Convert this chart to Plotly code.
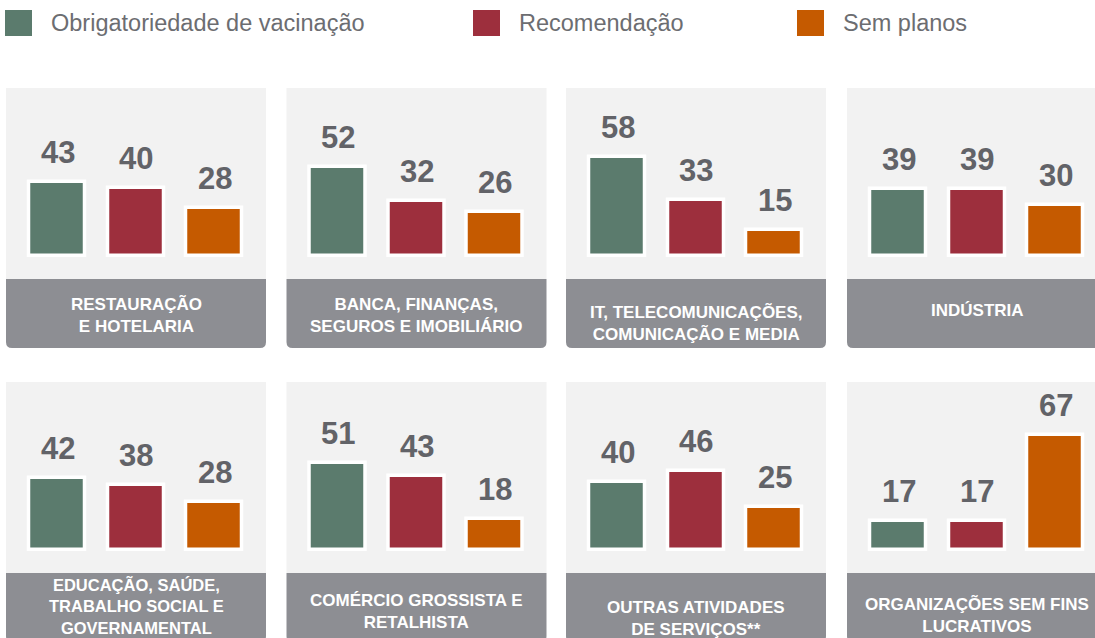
import plotly.graph_objects as go

# ---------------- data ----------------
sectors = [
    "RESTAURAÇÃO<br>E HOTELARIA",
    "BANCA, FINANÇAS,<br>SEGUROS E IMOBILIÁRIO",
    "IT, TELECOMUNICAÇÕES,<br>COMUNICAÇÃO E MEDIA",
    "INDÚSTRIA",
    "EDUCAÇÃO, SAÚDE,<br>TRABALHO SOCIAL E<br>GOVERNAMENTAL",
    "COMÉRCIO GROSSISTA E<br>RETALHISTA",
    "OUTRAS ATIVIDADES<br>DE SERVIÇOS**",
    "ORGANIZAÇÕES SEM FINS<br>LUCRATIVOS",
]
series = ["Obrigatoriedade de vacinação", "Recomendação", "Sem planos"]
obrigatoriedade = [43, 52, 58, 39, 42, 51, 40, 17]
recomendacao = [40, 32, 33, 39, 38, 43, 46, 17]
sem_planos = [28, 26, 15, 30, 28, 18, 25, 67]

# ---------------- style / layout ----------------
W, H = 1095, 638
colors = ["#5b7b6d", "#9d2f3d", "#c55a00"]
panel_bg = "#f2f2f2"
label_bg = "#8d8e93"
value_color = "#626368"
legend_color = "#6c6d71"
FONT = "Liberation Sans, Arial, sans-serif"

panel_left = [6, 286.5, 566, 847]
panel_w = 260
row_top = [88, 382]
label_top = [279, 573]
label_bot = [348, 642]
zero_px = [256, 550]
scale = 1.71            # px per percentage point
label_cy = [315.5, 316, 323, 311, 606, 611, 618, 615]
label_size = [17, 17, 17, 17, 16.5, 17, 17, 17]
legend_x = [5, 473, 797]


def fx(p):
    return p / W


def fy(p):
    return 1 - p / H


fig = go.Figure()
shapes = []
annotations = []

values_by_panel = list(zip(obrigatoriedade, recomendacao, sem_planos))

for i, sector in enumerate(sectors):
    r, c = divmod(i, 4)
    left = panel_left[c]
    right = min(left + panel_w, W + 20)
    # panel background
    shapes.append(dict(type="rect", xref="paper", yref="paper",
                       x0=fx(left), x1=fx(right), y0=fy(label_top[r]), y1=fy(row_top[r]),
                       fillcolor=panel_bg, line_width=0, layer="below"))
    # label box with rounded bottom corners
    rad = 6
    x0, x1 = fx(left), fx(right)
    yt, yb = fy(label_top[r]), fy(label_bot[r])
    rx, ry = rad / W, rad / H
    path = (f"M {x0},{yt} L {x1},{yt} L {x1},{yb + ry} Q {x1},{yb} {x1 - rx},{yb} "
            f"L {x0 + rx},{yb} Q {x0},{yb} {x0},{yb + ry} Z")
    shapes.append(dict(type="path", xref="paper", yref="paper", path=path,
                       fillcolor=label_bg, line_width=0, layer="below"))
    annotations.append(dict(xref="paper", yref="paper", x=fx(left + 130), y=fy(label_cy[i]),
                            text=f"<b>{sector}</b>", showarrow=False, xanchor="center",
                            yanchor="middle", align="center",
                            font=dict(family=FONT, size=label_size[i], color="white")))

    # axes
    ax_id = "" if i == 0 else str(i + 1)
    step = 78.5
    dom_x0 = left + 51.5 - step / 2
    dom_x1 = min(left + 51.5 + 2 * step + step / 2, W)
    rng_hi = 2 + (dom_x1 - (left + 51.5 + 2 * step)) / step
    pad = 6
    dom_y_bot = zero_px[r] + pad
    dom_y_top = row_top[r]
    fig.update_layout(**{
        f"xaxis{ax_id}": dict(domain=[fx(dom_x0), fx(dom_x1)], range=[-0.5, rng_hi],
                              visible=False, fixedrange=True, anchor=f"y{ax_id}"),
        f"yaxis{ax_id}": dict(domain=[fy(dom_y_bot), fy(dom_y_top)],
                              range=[-pad / scale, (zero_px[r] - row_top[r]) / scale],
                              visible=False, fixedrange=True, anchor=f"x{ax_id}"),
    })
    vals = list(values_by_panel[i])
    fig.add_trace(go.Bar(x=[0, 1, 2], y=vals, width=56 / step,
                         marker=dict(color=colors, line=dict(color="white", width=3.5)),
                         xaxis=f"x{ax_id}", yaxis=f"y{ax_id}", showlegend=False,
                         hoverinfo="skip"))
    for k, v in enumerate(vals):
        annotations.append(dict(xref=f"x{ax_id}", yref=f"y{ax_id}", x=k, y=v,
                                text=f"<b>{v}</b>", showarrow=False, xanchor="center",
                                yanchor="bottom", yshift=10,
                                font=dict(family=FONT, size=31, color=value_color)))

# legend (manual)
for k, name in enumerate(series):
    lx = legend_x[k]
    shapes.append(dict(type="rect", xref="paper", yref="paper",
                       x0=fx(lx), x1=fx(lx + 27), y0=fy(36), y1=fy(10),
                       fillcolor=colors[k], line_width=0))
    annotations.append(dict(xref="paper", yref="paper", x=fx(lx + 44), y=fy(23),
                            text=name, showarrow=False, xanchor="left", yanchor="middle",
                            font=dict(family=FONT, size=23.5, color=legend_color)))

fig.update_layout(width=W, height=H, margin=dict(l=0, r=0, t=0, b=0),
                  paper_bgcolor="white", plot_bgcolor="rgba(0,0,0,0)",
                  shapes=shapes, annotations=annotations, showlegend=False,
                  bargap=0)

fig.write_html("out.html", config={"displayModeBar": False},
               post_script="document.body.style.margin='0';document.body.style.padding='0';"
                           "document.body.style.overflow='hidden';")
